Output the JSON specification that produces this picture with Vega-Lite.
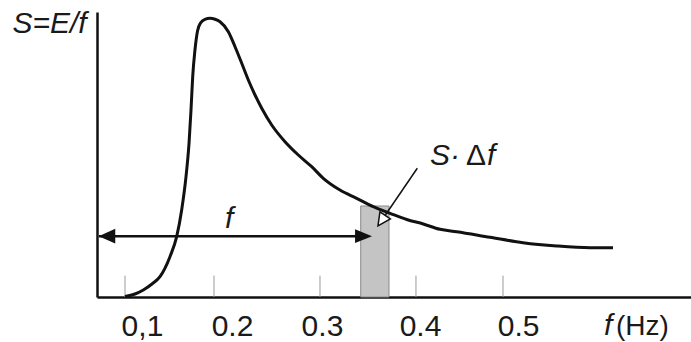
{
  "$schema": "https://vega.github.io/schema/vega-lite/v6.json",
  "width": 594,
  "height": 285,
  "autosize": {"type": "none"},
  "padding": {"left": 97, "top": 12, "right": 0, "bottom": 45},
  "background": "white",
  "config": {
    "view": {"stroke": null},
    "font": "Liberation Sans",
    "text": {"font": "Liberation Sans", "fontSize": 30, "color": "#1a1a1a"}
  },
  "datasets": {
    "curve": [
      {"f": 0.0997, "S": 0.0018},
      {"f": 0.1103, "S": 0.0105},
      {"f": 0.1191, "S": 0.0246},
      {"f": 0.1283, "S": 0.0456},
      {"f": 0.1368, "S": 0.0712},
      {"f": 0.1474, "S": 0.1414},
      {"f": 0.1545, "S": 0.2116},
      {"f": 0.1598, "S": 0.3053},
      {"f": 0.1644, "S": 0.4221},
      {"f": 0.1676, "S": 0.5393},
      {"f": 0.1697, "S": 0.6561},
      {"f": 0.1715, "S": 0.7730},
      {"f": 0.1739, "S": 0.8667},
      {"f": 0.1766, "S": 0.9333},
      {"f": 0.1798, "S": 0.9614},
      {"f": 0.1845, "S": 0.9744},
      {"f": 0.1898, "S": 0.9779},
      {"f": 0.1952, "S": 0.9747},
      {"f": 0.2005, "S": 0.9660},
      {"f": 0.2093, "S": 0.9309},
      {"f": 0.2164, "S": 0.8782},
      {"f": 0.2235, "S": 0.8200},
      {"f": 0.2305, "S": 0.7614},
      {"f": 0.2376, "S": 0.7088},
      {"f": 0.2447, "S": 0.6621},
      {"f": 0.2553, "S": 0.6035},
      {"f": 0.2694, "S": 0.5449},
      {"f": 0.2835, "S": 0.4982},
      {"f": 0.2977, "S": 0.4572},
      {"f": 0.3100, "S": 0.4165},
      {"f": 0.3277, "S": 0.3754},
      {"f": 0.3454, "S": 0.3463},
      {"f": 0.3630, "S": 0.3168},
      {"f": 0.3808, "S": 0.2937},
      {"f": 0.3985, "S": 0.2719},
      {"f": 0.4161, "S": 0.2561},
      {"f": 0.4338, "S": 0.2375},
      {"f": 0.4515, "S": 0.2291},
      {"f": 0.4868, "S": 0.2095},
      {"f": 0.5218, "S": 0.1905},
      {"f": 0.5576, "S": 0.1789},
      {"f": 0.5929, "S": 0.1730},
      {"f": 0.6173, "S": 0.1730}
    ],
    "ticks": [
      {"f": 0.0997, "S0": 0, "S1": 0.075},
      {"f": 0.1941, "S0": 0, "S1": 0.075},
      {"f": 0.3065, "S0": 0, "S1": 0.075},
      {"f": 0.4083, "S0": 0, "S1": 0.075},
      {"f": 0.5006, "S0": 0, "S1": 0.075}
    ],
    "band": [{"f1": 0.3497, "f2": 0.3797, "S0": 0, "S1": 0.3193}],
    "span": [{"f1": 0.0721, "f2": 0.3527, "S": 0.2135}],
    "heads": [
      {"f": 0.0806, "S": 0.2135, "dir": "left"},
      {"f": 0.3527, "S": 0.2135, "dir": "right"}
    ],
    "pointer": [{"f1": 0.4097, "S1": 0.4516, "f2": 0.3755, "S2": 0.2860}],
    "pointerHead": [{"f": 0.3718, "S": 0.2680}],
    "italicText": [
      {"f": 0.2058, "S": 0.2421, "label": "f"},
      {"f": 0.4232, "S": 0.4632, "label": "S·"},
      {"f": 0.4836, "S": 0.4632, "label": "f"}
    ],
    "uprightText": [
      {"f": 0.4614, "S": 0.4632, "label": "Δ"}
    ],
    "unitItalic": [{"f": 0.6077, "label": "f"}],
    "unitUpright": [{"f": 0.6205, "label": "(Hz)"}]
  },
  "layer": [
    {
      "data": {"name": "band"},
      "mark": {"type": "rect", "fill": "#c4c4c4", "stroke": "#8a8a8a", "strokeWidth": 1},
      "encoding": {
        "x": {
          "field": "f1", "type": "quantitative",
          "scale": {"domain": [0.07, 0.7], "nice": false, "zero": false},
          "axis": {
            "values": [0.1177, 0.2132, 0.3086, 0.4126, 0.5167],
            "labelExpr": "datum.value < 0.15 ? '0,1' : datum.value < 0.25 ? '0.2' : datum.value < 0.35 ? '0.3' : datum.value < 0.45 ? '0.4' : '0.5'",
            "title": null,
            "ticks": false,
            "tickSize": 0,
            "grid": false,
            "domainColor": "#111111",
            "domainWidth": 2.5,
            "labelFont": "Liberation Sans",
            "labelFontSize": 30,
            "labelColor": "#1a1a1a",
            "labelBaseline": "alphabetic",
            "labelPadding": 38,
            "labelFlush": false,
            "labelOverlap": false
          }
        },
        "x2": {"field": "f2"},
        "y": {
          "field": "S0", "type": "quantitative",
          "scale": {"domain": [0, 1], "nice": false},
          "axis": {
            "labels": false,
            "ticks": false,
            "grid": false,
            "domainColor": "#111111",
            "domainWidth": 2.5,
            "title": "S=E/f",
            "titleAngle": 0,
            "titleAlign": "left",
            "titleBaseline": "alphabetic",
            "titleX": -85,
            "titleY": 20,
            "titleFont": "Liberation Sans",
            "titleFontSize": 30,
            "titleFontStyle": "italic",
            "titleFontWeight": "normal",
            "titleColor": "#1a1a1a"
          }
        },
        "y2": {"field": "S1"}
      }
    },
    {
      "data": {"name": "ticks"},
      "mark": {"type": "rule", "color": "#9a9a9a", "strokeWidth": 1},
      "encoding": {
        "x": {"field": "f", "type": "quantitative"},
        "y": {"field": "S0", "type": "quantitative"},
        "y2": {"field": "S1"}
      }
    },
    {
      "data": {"name": "curve"},
      "mark": {"type": "line", "color": "#111111", "strokeWidth": 3, "interpolate": "monotone"},
      "encoding": {
        "x": {"field": "f", "type": "quantitative"},
        "y": {"field": "S", "type": "quantitative"}
      }
    },
    {
      "data": {"name": "span"},
      "mark": {"type": "rule", "color": "#111111", "strokeWidth": 2.5},
      "encoding": {
        "x": {"field": "f1", "type": "quantitative"},
        "x2": {"field": "f2"},
        "y": {"field": "S", "type": "quantitative"}
      }
    },
    {
      "data": {"name": "heads"},
      "transform": [{"filter": "datum.dir == 'left'"}],
      "mark": {"type": "point", "filled": true, "color": "#111111", "opacity": 1, "size": 272, "shape": "M1,-0.9L-1,0L1,0.9Z"},
      "encoding": {
        "x": {"field": "f", "type": "quantitative"},
        "y": {"field": "S", "type": "quantitative"}
      }
    },
    {
      "data": {"name": "heads"},
      "transform": [{"filter": "datum.dir == 'right'"}],
      "mark": {"type": "point", "filled": true, "color": "#111111", "opacity": 1, "size": 289, "shape": "M-1,-0.8L1,0L-1,0.8Z"},
      "encoding": {
        "x": {"field": "f", "type": "quantitative"},
        "y": {"field": "S", "type": "quantitative"}
      }
    },
    {
      "data": {"name": "pointer"},
      "mark": {"type": "rule", "color": "#111111", "strokeWidth": 1.5},
      "encoding": {
        "x": {"field": "f1", "type": "quantitative"},
        "x2": {"field": "f2"},
        "y": {"field": "S1", "type": "quantitative"},
        "y2": {"field": "S2"}
      }
    },
    {
      "data": {"name": "pointerHead"},
      "mark": {"type": "point", "filled": false, "fill": "white", "fillOpacity": 1, "stroke": "#111111", "strokeWidth": 1.5, "opacity": 1, "size": 160, "angle": 124.5, "shape": "M1,0L-1,-1.0L-1,1.0Z"},
      "encoding": {
        "x": {"field": "f", "type": "quantitative"},
        "y": {"field": "S", "type": "quantitative"}
      }
    },
    {
      "data": {"name": "italicText"},
      "mark": {"type": "text", "fontStyle": "italic", "align": "left", "baseline": "alphabetic", "fontSize": 30},
      "encoding": {
        "x": {"field": "f", "type": "quantitative"},
        "y": {"field": "S", "type": "quantitative"},
        "text": {"field": "label"}
      }
    },
    {
      "data": {"name": "uprightText"},
      "mark": {"type": "text", "align": "left", "baseline": "alphabetic", "fontSize": 30},
      "encoding": {
        "x": {"field": "f", "type": "quantitative"},
        "y": {"field": "S", "type": "quantitative"},
        "text": {"field": "label"}
      }
    },
    {
      "data": {"name": "unitItalic"},
      "mark": {"type": "text", "fontStyle": "italic", "align": "left", "baseline": "alphabetic", "fontSize": 30, "dy": 38},
      "encoding": {
        "x": {"field": "f", "type": "quantitative"},
        "y": {"datum": 0, "type": "quantitative"},
        "text": {"field": "label"}
      }
    },
    {
      "data": {"name": "unitUpright"},
      "mark": {"type": "text", "align": "left", "baseline": "alphabetic", "fontSize": 28, "dy": 38},
      "encoding": {
        "x": {"field": "f", "type": "quantitative"},
        "y": {"datum": 0, "type": "quantitative"},
        "text": {"field": "label"}
      }
    }
  ]
}
